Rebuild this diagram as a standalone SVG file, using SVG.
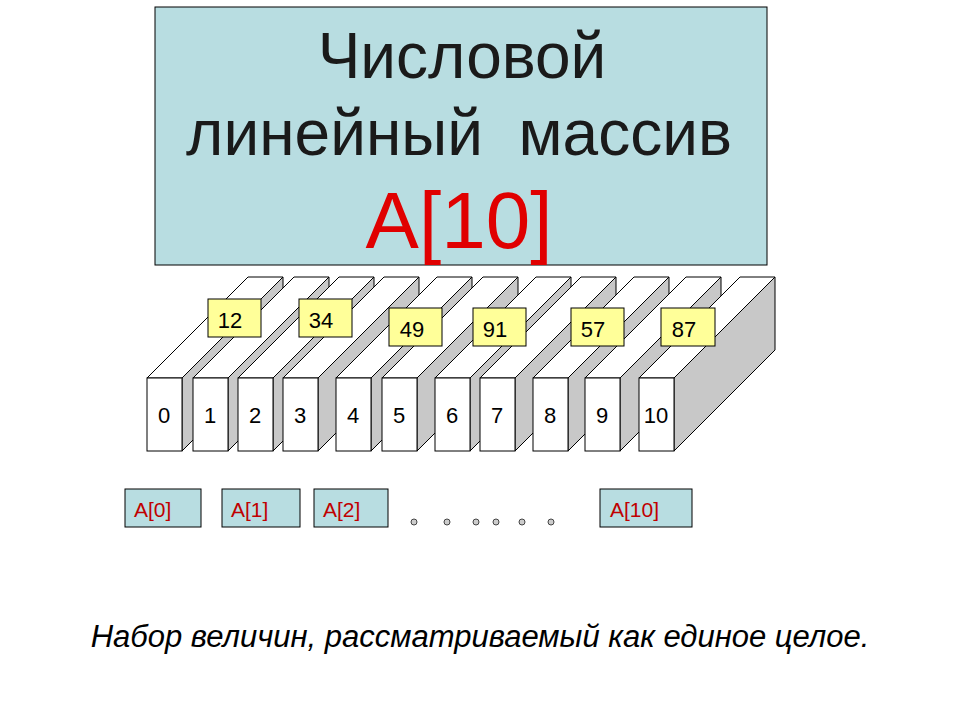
<svg xmlns="http://www.w3.org/2000/svg" width="960" height="720" viewBox="0 0 960 720">
<defs><style>
text{font-family:"Liberation Sans",Arial,sans-serif}
.f{fill:#fff;stroke:#000;stroke-width:1}
.s{fill:#c8c8c8;stroke:#000;stroke-width:1}
.n{font-size:22px;text-anchor:middle}
.y{fill:#ffff99;stroke:#000;stroke-width:1}
.b{fill:#b8dde1;stroke:#000;stroke-width:1}
.r{fill:#c00000;font-size:21px}
.d{fill:#ccc;stroke:#444;stroke-width:1}
</style>
<g id="blk"><polygon class="f" points="0,0 101,-101 136,-101 35,0"/><polygon class="s" points="35,0 136,-101 136,-28 35,73"/><rect class="f" x="0" y="0" width="35" height="73"/></g>
</defs>
<rect width="960" height="720" fill="#fff"/>
<g id="title"><rect class="b" x="155" y="7" width="612" height="258"/>
<text x="462" y="78" font-size="64" text-anchor="middle" fill="#1a1a1a">Числовой</text>
<text x="459" y="155" font-size="64" text-anchor="middle" fill="#1a1a1a" xml:space="preserve">линейный  массив</text>
<text x="459" y="248" font-size="80" text-anchor="middle" fill="#e00000">A[10]</text></g>
<g id="cells">
<use href="#blk" x="147" y="378"/><use href="#blk" x="193" y="378"/><use href="#blk" x="238" y="378"/><use href="#blk" x="283" y="378"/><use href="#blk" x="336" y="378"/><use href="#blk" x="382" y="378"/><use href="#blk" x="435" y="378"/><use href="#blk" x="480" y="378"/><use href="#blk" x="533" y="378"/><use href="#blk" x="585" y="378"/><use href="#blk" x="639" y="378"/>
<text class="n" x="164" y="423">0</text><text class="n" x="210" y="423">1</text><text class="n" x="255" y="423">2</text><text class="n" x="300" y="423">3</text><text class="n" x="353" y="423">4</text><text class="n" x="399" y="423">5</text><text class="n" x="452" y="423">6</text><text class="n" x="497" y="423">7</text><text class="n" x="550" y="423">8</text><text class="n" x="602" y="423">9</text><text class="n" x="656" y="423">10</text>
</g>
<g id="values">
<rect class="y" x="208" y="299" width="53" height="38"/><text class="n" x="230" y="328">12</text>
<rect class="y" x="299" y="299" width="53" height="38"/><text class="n" x="321" y="328">34</text>
<rect class="y" x="389" y="308" width="53" height="38"/><text class="n" x="412" y="337">49</text>
<rect class="y" x="473" y="308" width="53" height="38"/><text class="n" x="495" y="337">91</text>
<rect class="y" x="571" y="308" width="53" height="38"/><text class="n" x="593" y="337">57</text>
<rect class="y" x="661" y="308" width="54" height="38"/><text class="n" x="684" y="337">87</text>
</g>
<g id="refs">
<rect class="b" x="125" y="489" width="76" height="38"/><text class="r" x="134" y="517">A[0]</text>
<rect class="b" x="222" y="489" width="78" height="38"/><text class="r" x="231" y="517">A[1]</text>
<rect class="b" x="314" y="489" width="74" height="38"/><text class="r" x="323" y="517">A[2]</text>
<rect class="b" x="600" y="489" width="92" height="38"/><text class="r" x="610" y="517">A[10]</text>
<circle class="d" cx="414" cy="522" r="3"/><circle class="d" cx="447" cy="522" r="3"/><circle class="d" cx="476" cy="522" r="3"/><circle class="d" cx="496" cy="522" r="3"/><circle class="d" cx="522" cy="522" r="3"/><circle class="d" cx="551" cy="522" r="3"/>
</g>
<text x="480" y="647" font-size="31" font-style="italic" text-anchor="middle">Набор величин, рассматриваемый как единое целое.</text>
</svg>
